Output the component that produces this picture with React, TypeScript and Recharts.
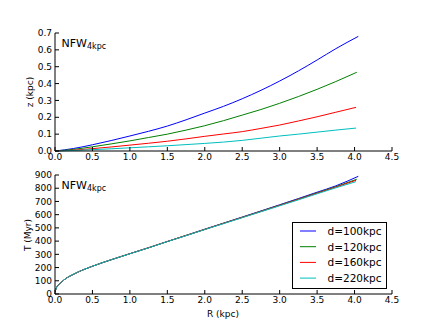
import React from 'react';
import { LineChart, Line, XAxis, YAxis } from 'recharts';

const rGrid = [0, 0.25, 0.5, 0.75, 1.0, 1.25, 1.5, 1.75, 2.0, 2.25, 2.5, 2.75, 3.0, 3.25, 3.5, 3.75];
const rEnd = [4.05, 4.03, 4.02, 4.02];

const zD100 = [0, 0.015, 0.037, 0.062, 0.089, 0.117, 0.148, 0.185, 0.225, 0.265, 0.31, 0.36, 0.415, 0.475, 0.54, 0.607, 0.68];
const zD120 = [0, 0.01, 0.025, 0.042, 0.06, 0.08, 0.1, 0.124, 0.15, 0.18, 0.213, 0.246, 0.283, 0.323, 0.366, 0.412, 0.467];
const zD160 = [0, 0.005, 0.014, 0.024, 0.035, 0.046, 0.058, 0.072, 0.087, 0.101, 0.115, 0.134, 0.154, 0.178, 0.203, 0.23, 0.259];
const zD220 = [0, 0.003, 0.008, 0.013, 0.019, 0.025, 0.031, 0.038, 0.045, 0.053, 0.063, 0.076, 0.089, 0.1, 0.112, 0.124, 0.136];

const tGridEarly = [0, 0.02, 0.07, 0.13];
const tEarly = [15, 48, 81, 111];
const tD100 = [150, 210, 259, 305, 350, 397, 443, 490, 536, 582, 628, 675, 722, 770, 818, 890];
const tD120 = [150, 210, 259, 305, 350, 397, 443, 489, 535, 580, 626, 672, 718, 765, 812, 868];
const tD160 = [150, 210, 259, 305, 350, 397, 442, 488, 534, 579, 624, 670, 716, 762, 808, 860];
const tD220 = [150, 210, 259, 304, 349, 396, 441, 487, 532, 577, 622, 667, 712, 758, 803, 850];

const seriesNames = ['d=100kpc', 'd=120kpc', 'd=160kpc', 'd=220kpc'];
const seriesColors = ['#0000ff', '#008000', '#ff0000', '#00bfbf'];

const xTicks = [0, 0.5, 1.0, 1.5, 2.0, 2.5, 3.0, 3.5, 4.0, 4.5];
const zTicks = [0, 0.1, 0.2, 0.3, 0.4, 0.5, 0.6, 0.7];
const tTicks = [0, 100, 200, 300, 400, 500, 600, 700, 800, 900];

const zSeries = [zD100, zD120, zD160, zD220];
const tSeries = [tD100, tD120, tD160, tD220];

const zData = zSeries.map((vals, i) =>
  [...rGrid, rEnd[i]].map((R, j) => ({ R, v: vals[j] }))
);
const tData = tSeries.map((vals, i) => [
  ...tGridEarly.map((R, j) => ({ R, v: tEarly[j] })),
  ...[...rGrid.slice(1), rEnd[i]].map((R, j) => ({ R, v: vals[j] })),
]);

const FONT = 'DejaVu Sans, sans-serif';
const tickStyle = { fontSize: 9, fill: '#000', fontFamily: FONT };

function Panel({ data, ticks, domain, fmt, top, height, marginTop, xHeight }: any) {
  return (
    <div style={{ position: 'absolute', left: 0, top }}>
      <LineChart width={436} height={height} margin={{ top: marginTop, right: 44, bottom: 0, left: 0 }}>
        <XAxis
          dataKey="R"
          type="number"
          domain={[0, 4.5]}
          ticks={xTicks}
          allowDataOverflow
          tickFormatter={(v: number) => v.toFixed(1)}
          tick={tickStyle}
          tickSize={-4}
          tickMargin={7}
          height={xHeight}
          stroke="#000"
          axisLine={{ stroke: '#000' }}
          tickLine={{ stroke: '#000' }}
        />
        <XAxis
          xAxisId="top"
          orientation="top"
          dataKey="R"
          type="number"
          domain={[0, 4.5]}
          ticks={xTicks}
          tickFormatter={() => ''}
          tickSize={-4}
          height={0}
          stroke="#000"
        />
        <YAxis
          type="number"
          domain={domain}
          ticks={ticks}
          tickFormatter={fmt}
          tick={tickStyle}
          tickSize={-4}
          tickMargin={7}
          width={55}
          stroke="#000"
          interval={0}
        />
        <YAxis
          yAxisId="right"
          orientation="right"
          type="number"
          domain={domain}
          ticks={ticks}
          tickFormatter={() => ''}
          tickSize={-4}
          width={0}
          stroke="#000"
          interval={0}
        />
        {data.map((d: any, i: number) => (
          <Line
            key={seriesNames[i]}
            data={d}
            dataKey="v"
            name={seriesNames[i]}
            stroke={seriesColors[i]}
            strokeWidth={1}
            dot={false}
            type="monotone"
            isAnimationActive={false}
          />
        ))}
      </LineChart>
    </div>
  );
}

export default function App() {
  return (
    <div style={{ position: 'absolute', left: 0, top: 0, width: 436, height: 327, background: '#fff' }}>
      <Panel
        data={zData}
        ticks={zTicks}
        domain={[0, 0.7]}
        fmt={(v: number) => v.toFixed(1)}
        top={0}
        height={170}
        marginTop={33}
        xHeight={19}
      />
      <Panel
        data={tData}
        ticks={tTicks}
        domain={[0, 900]}
        fmt={(v: number) => String(v)}
        top={160}
        height={167}
        marginTop={15}
        xHeight={33}
      />
      <svg width={436} height={327} style={{ position: 'absolute', left: 0, top: 0, pointerEvents: 'none' }}>
        <text x={61.5} y={46.7} fontFamily={FONT} fontSize={11} fill="#000">
          NFW<tspan fontSize={8} dy={2}>4kpc</tspan>
        </text>
        <text x={61.5} y={188.7} fontFamily={FONT} fontSize={11} fill="#000">
          NFW<tspan fontSize={8} dy={2}>4kpc</tspan>
        </text>
        <text x={33} y={92} transform="rotate(-90 33 92)" textAnchor="middle" fontFamily={FONT} fontSize={9} fill="#000">
          z (kpc)
        </text>
        <text x={31} y={235} transform="rotate(-90 31 235)" textAnchor="middle" fontFamily={FONT} fontSize={9} fill="#000">
          T (Myr)
        </text>
        <text x={223} y={317} textAnchor="middle" fontFamily={FONT} fontSize={9} fill="#000">
          R (kpc)
        </text>
        <rect x={292.5} y={222.5} width={94} height={66} fill="#fff" stroke="#000" strokeWidth={1} />
        {seriesNames.map((n, i) => (
          <g key={n}>
            <line x1={300} x2={316} y1={231 + i * 15.7} y2={231 + i * 15.7} stroke={seriesColors[i]} strokeWidth={1} />
            <text x={327.5} y={231 + i * 15.7 + 3.8} fontFamily={FONT} fontSize={10.5} fill="#000">
              {n}
            </text>
          </g>
        ))}
      </svg>
    </div>
  );
}
